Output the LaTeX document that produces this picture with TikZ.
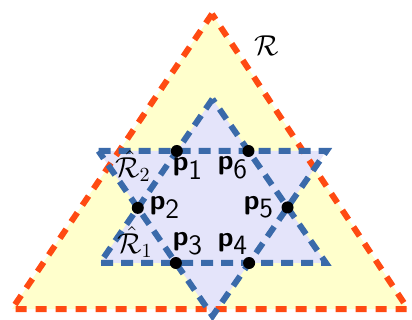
\documentclass[tikz,border=0pt]{standalone}
\usetikzlibrary{intersections}
\definecolor{outerfill}{HTML}{FFFFCC}
\definecolor{outerline}{HTML}{FF4A12}
\definecolor{innerfill}{HTML}{E4E4FA}
\definecolor{innerline}{HTML}{3A6AAA}
\begin{document}
\begin{tikzpicture}[x=0.5pt,y=-0.5pt,
  outerstyle/.style={draw=outerline,line width=3pt,dash pattern=on 5.5pt off 4.5pt},
  innerstyle/.style={draw=innerline,line width=3pt,dash pattern=on 6pt off 4pt},
  dot/.style={circle,fill=black,inner sep=0pt,minimum size=6pt},
  lbl/.style={font=\fontsize{14}{16}\selectfont,inner sep=0pt}]
\useasboundingbox (0,0) rectangle (412,320);
% corners
\coordinate (oa) at (212,14);
\coordinate (ob) at (12,309);
\coordinate (oc) at (408,309);
\coordinate (ua) at (212.5,99);
\coordinate (ub) at (100,263);
\coordinate (uc) at (326,263);
\coordinate (da) at (98.5,151);
\coordinate (db) at (326.5,151);
\coordinate (dc) at (212.5,316);
% fills
\fill[outerfill] (oa) -- (ob) -- (oc) -- cycle;
\fill[innerfill] (ua) -- (ub) -- (uc) -- cycle;
\fill[innerfill] (da) -- (db) -- (dc) -- cycle;
% outlines
\draw[outerstyle] (oa) -- (ob) -- (oc) -- cycle;
\path[name path=upl] (ua) -- (ub);
\path[name path=upr] (ua) -- (uc);
\path[name path=upb] (ub) -- (uc);
\path[name path=dnl] (da) -- (dc);
\path[name path=dnr] (db) -- (dc);
\path[name path=dnt] (da) -- (db);
\draw[innerstyle] (ua) -- (ub) -- (uc) -- cycle;
\draw[innerstyle] (da) -- (db) -- (dc) -- cycle;
% intersection points
\path[name intersections={of=upl and dnt,by=q1}];
\path[name intersections={of=upr and dnt,by=q6}];
\path[name intersections={of=upl and dnl,by=q2}];
\path[name intersections={of=upr and dnr,by=q5}];
\path[name intersections={of=upb and dnl,by=q3}];
\path[name intersections={of=upb and dnr,by=q4}];
\node[dot] (p1) at (q1) {};
\node[dot] (p6) at (q6) {};
\node[dot] (p2) at (q2) {};
\node[dot] (p5) at (q5) {};
\node[dot] (p3) at (q3) {};
\node[dot] (p4) at (q4) {};
% labels
\node[lbl] (lR) at (267,46) {$\mathcal{R}$};
\node[lbl] (lR2) at (133,166) {$\hat{\mathcal{R}}_2$};
\node[lbl] (lR1) at (135,242) {$\hat{\mathcal{R}}_1$};
\node[lbl] (l1) at (188,168) {\textsf{\textbf{p}}$_{\textsf{1}}$};
\node[lbl] (l6) at (233,168) {\textsf{\textbf{p}}$_{\textsf{6}}$};
\node[lbl] (l2) at (165,207) {\textsf{\textbf{p}}$_{\textsf{2}}$};
\node[lbl] (l5) at (259,207) {\textsf{\textbf{p}}$_{\textsf{5}}$};
\node[lbl] (l3) at (188,244) {\textsf{\textbf{p}}$_{\textsf{3}}$};
\node[lbl] (l4) at (233,244) {\textsf{\textbf{p}}$_{\textsf{4}}$};
\end{tikzpicture}
\end{document}
